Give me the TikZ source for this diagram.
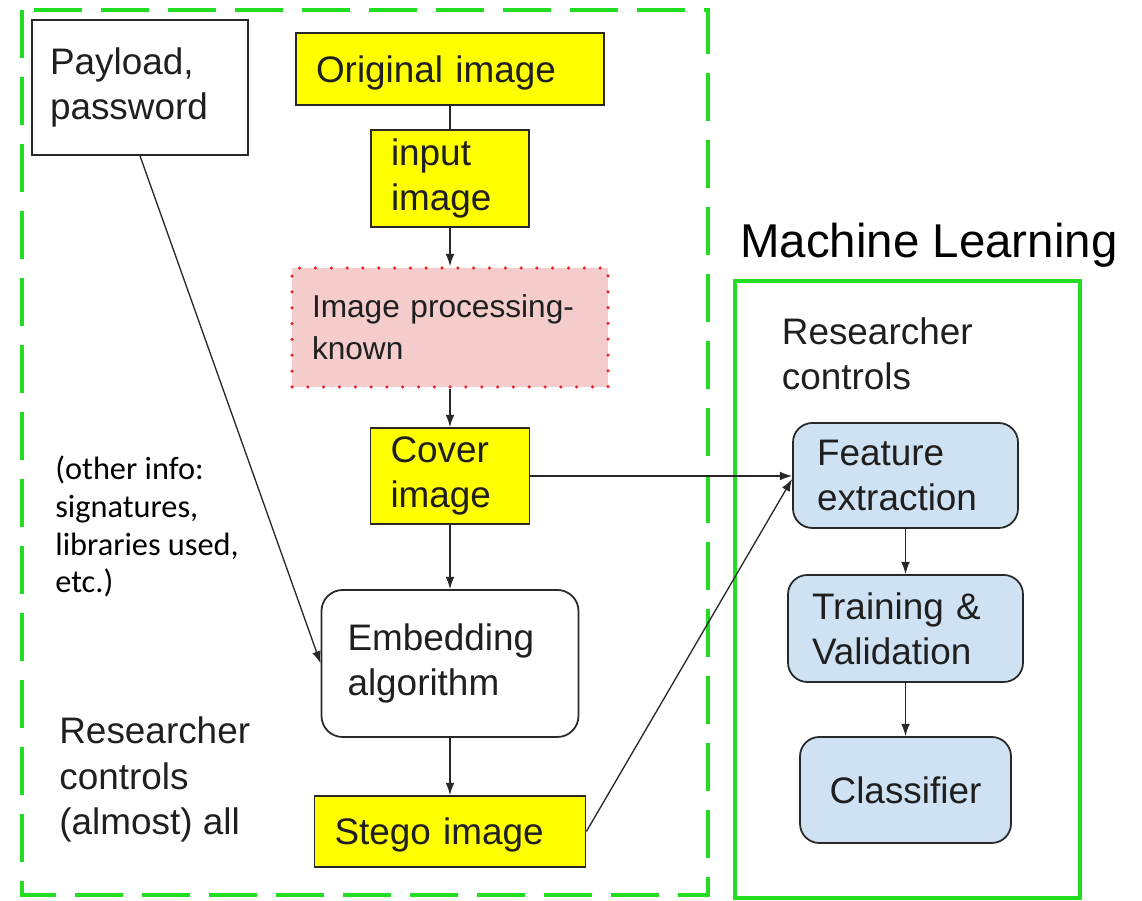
\documentclass[tikz,border=0pt]{standalone}
\usepackage{fontspec}
\setmainfont{Liberation Sans}
\newfontfamily\notefont{Carlito}
\usetikzlibrary{arrows.meta, positioning}
\definecolor{clrGrn} {RGB}{ 34,221, 34}
\definecolor{clrYel} {RGB}{255,255,  0}
\definecolor{clrProc}{RGB}{244,204,204}
\definecolor{clrDot} {RGB}{228, 40, 40}
\definecolor{clrML}  {RGB}{207,226,243}
\definecolor{clrBdr} {RGB}{ 40, 40, 40}
\tikzset{
  basebox/.style={rectangle, draw=clrBdr, line width=1pt, font=\fontsize{21}{25.5}\selectfont,
    align=left, inner xsep=0.4cm, inner ysep=0pt, text=black!88},
  imgbox/.style={basebox, fill=clrYel},
  procbox/.style={basebox, draw=clrDot, fill=clrProc, line width=2pt, line cap=round,
    dash pattern=on 0pt off 9pt, font=\fontsize{18}{24}\selectfont},
  algbox/.style={basebox, rounded corners=12pt},
  mlbox/.style={basebox, fill=clrML, rounded corners=11pt},
  arr/.style={-{Latex[length=7pt,width=5pt]}, line width=0.75pt, color=clrBdr},
  lnk/.style={line width=0.75pt, color=clrBdr},
  annot/.style={font=\fontsize{21}{26}\selectfont, align=left, inner sep=0pt, text=black!88},
  infonote/.style={font=\notefont\fontsize{18.4}{21.6}\selectfont, align=left, inner sep=0pt},
}
\begin{document}
\begin{tikzpicture}[x=1cm,y=1cm]
\useasboundingbox (0,0) rectangle (22.84,18.02);
% group frames
\draw[clrGrn, line width=2.8pt, dash pattern=on 0.96cm off 0.38cm] (0.44,17.82) rectangle (14.16,0.12);
\draw[clrGrn, line width=2.8pt] (14.70,12.40) rectangle (21.60,0.06);
% stego pipeline
\node[basebox, text width=3.6cm, inner xsep=0.36cm, minimum height=2.7cm] (payload) at (2.80,16.27) {Payload,\\password};
\node[imgbox, text width=5.36cm, minimum height=1.44cm, text depth=0pt] (orig) at (9.0,16.64) {Original image};
\node[imgbox, text width=2.36cm, minimum height=1.94cm] (input) at (9.0,14.45) {input\\image};
\node[procbox, text width=5.52cm, minimum height=2.38cm] (proc) at (9.0,11.47) {Image processing-\\known};
\node[imgbox, text width=2.38cm, minimum height=1.92cm] (cover) at (9.0,8.50) {Cover\\image};
\node[algbox, text width=4.1cm, inner xsep=0.52cm, minimum height=2.94cm] (embed) at (9.0,4.75) {Embedding\\algorithm};
\node[imgbox, text width=4.62cm, minimum height=1.42cm, text depth=0pt] (stego) at (9.0,1.39) {Stego image};
% ML pipeline
\node[mlbox, text width=3.54cm, inner xsep=0.48cm, minimum height=2.10cm] (feat) at (18.11,8.51) {Feature\\extraction};
\node[mlbox, text width=3.74cm, inner xsep=0.48cm, minimum height=2.14cm] (train) at (18.11,5.45) {Training \&\\Validation};
\node[mlbox, text width=3.42cm, align=center, minimum height=2.12cm] (clf) at (18.11,2.22) {Classifier};
% free text (base = last line)
\node[annot, anchor=base west, font=\fontsize{27}{30}\selectfont, text=black] (mltitle) at (14.80,12.86) {Machine Learning};
\node[annot, anchor=base west] (mlctl) at (15.63,10.22) {Researcher\\controls};
\node[annot, anchor=base west] (leftctl) at (1.18,1.32) {Researcher\\controls\\(almost) all};
\node[infonote, anchor=base west] (otherinfo) at (1.10,6.16) {(other info:\\signatures,\\libraries used,\\etc.)};
% connectors
\draw[lnk] (orig) -- (input);
\draw[arr] (input) -- (proc);
\draw[arr] (proc) -- (cover);
\draw[arr] (cover) -- (embed);
\draw[arr] (embed) -- (stego);
\draw[arr] (payload.south) -- (embed.west);
\draw[arr] (cover.east) -- (cover.east -| feat.west);
\draw[arr] (stego.east) -- ([yshift=-2pt]feat.west);
\draw[arr] (feat) -- (train);
\draw[arr] (train) -- (clf);
\end{tikzpicture}
\end{document}
